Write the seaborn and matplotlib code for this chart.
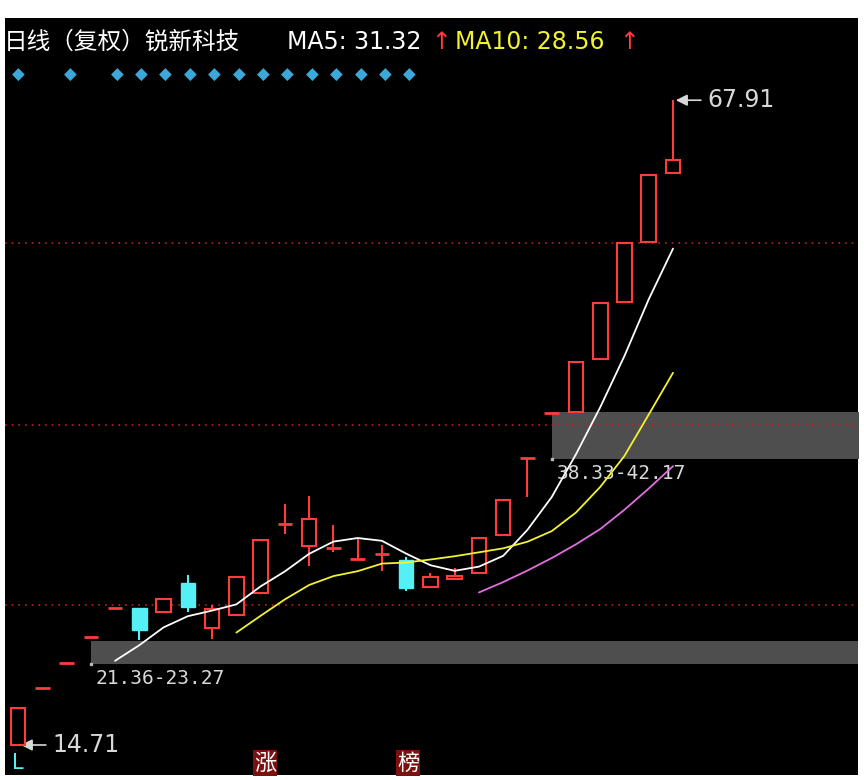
import numpy as np
import pandas as pd
import matplotlib
matplotlib.use("Agg")
import matplotlib.pyplot as plt
import seaborn as sns

sns.set_theme(style="dark")
plt.rcParams['font.family'] = ['Noto Sans CJK SC', 'DejaVu Sans']

opens  = [14.71,19.41,21.48,23.62,26.01,26.01,25.68,28.08,24.36,25.44,27.25,32.94,31.13,30.96,30.06,30.47,29.97,27.75,28.40,28.90,32.04,38.39,42.10,42.19,46.56,51.26,56.21,61.90]
closes = [17.76,19.41,21.48,23.62,26.01,24.20,26.76,26.10,25.93,28.57,31.62,32.94,33.36,30.96,30.06,30.47,27.66,28.57,28.65,31.79,34.92,38.39,42.10,46.31,51.18,56.13,61.74,62.98]
highs  = [17.76,19.41,21.48,23.62,26.01,26.01,26.76,28.74,26.26,28.57,31.62,34.59,35.25,32.86,31.79,31.21,30.22,28.90,29.31,31.79,34.92,38.39,42.10,46.31,51.18,56.13,61.74,67.91]
lows   = [14.71,19.41,21.48,23.62,26.01,23.37,25.68,25.68,23.46,25.44,27.25,32.12,29.48,30.63,30.06,29.07,27.42,27.75,28.32,28.90,32.04,35.17,42.10,42.19,46.56,51.26,56.21,61.90]
grid_levels = [56.13, 41.11, 26.26]
zones = [(21.36, 23.27, 3.0), (38.33, 42.17, 22.0)]

BG = "black"; RED = "#ff3b3b"; CYAN = "#54f0f5"
fig = plt.figure(figsize=(8.64, 7.8), dpi=100, facecolor="white")
W, H = 864, 780
ax = fig.add_axes([5/W, 1-775/H, 853/W, 757/H])
ax.set_facecolor(BG)
x0, dx = 18, 24.26
ax.set_xlim((5-x0)/dx, (858-x0)/dx)
pp = 12.12
ax.set_ylim(14.71-30/pp, 14.71+727/pp)
ax.set_xticks([]); ax.set_yticks([])
for s in ax.spines.values(): s.set_visible(False)

for g in grid_levels:
    ax.axhline(g, color="#c02020", ls=(0, (1, 3)), lw=1.2)
for lo, hi, xs in zones:
    ax.fill_between([xs, 40], lo, hi, color="#4e4e4e", lw=0, zorder=1)
    ax.plot([xs], [lo], marker="s", ms=2, color="#bbbbbb", zorder=2)
    ax.text(xs+0.2, lo-0.4, f"{lo:.2f}-{hi:.2f}", color="#d8d8d8", fontsize=14,
            family="DejaVu Sans Mono", va="top", ha="left", zorder=3)

n = len(opens)
idx = np.arange(n)
bw = 0.6
for i in idx:
    o, c, h, l = opens[i], closes[i], highs[i], lows[i]
    up = c >= o
    col = RED if up else CYAN
    top, bot = max(o, c), min(o, c)
    ax.vlines(i, top, h, color=col, lw=1.5, zorder=4)
    ax.vlines(i, l, bot, color=col, lw=1.5, zorder=4)
    if abs(c - o) < 0.15:
        ax.hlines(c, i-bw/2, i+bw/2, color=col, lw=2, zorder=4)
    elif up:
        ax.bar(i, top-bot, bottom=bot, width=bw, facecolor=BG, edgecolor=col, lw=1.5, zorder=4)
    else:
        ax.bar(i, top-bot, bottom=bot, width=bw, facecolor=col, edgecolor=col, lw=1, zorder=4)

df = pd.DataFrame({"i": idx, "close": closes})
for w, col in [(5, "white"), (10, "#f2f230"), (20, "#e070e0")]:
    df[f"ma{w}"] = df["close"].rolling(w).mean()
    sns.lineplot(data=df, x="i", y=f"ma{w}", color=col, lw=1.3, ax=ax, zorder=5)
ax.set_xlabel(""); ax.set_ylabel("")

ax.annotate("67.91", xy=(27, 67.91), xytext=(28.4, 67.91), color="#d8d8d8", fontsize=17,
            va="center", family="DejaVu Sans",
            arrowprops=dict(arrowstyle="-|>", color="#d8d8d8", lw=1.2))
ax.annotate("14.71", xy=(0, 14.71), xytext=(1.4, 14.71), color="#d8d8d8", fontsize=17,
            va="center", family="DejaVu Sans",
            arrowprops=dict(arrowstyle="-|>", color="#d8d8d8", lw=1.2))

fy = 1-42/H
fig.text(4/W, fy, "日线（复权）锐新科技", color="white", fontsize=17, va="center")
fig.text(287/W, fy, "MA5: 31.32", color="white", fontsize=17, va="center", family="DejaVu Sans")
fig.text(431/W, fy, "↑", color=RED, fontsize=17, va="center", family="DejaVu Sans")
fig.text(455/W, fy, "MA10: 28.56", color="#f2f230", fontsize=17, va="center", family="DejaVu Sans")
fig.text(619/W, fy, "↑", color=RED, fontsize=17, va="center", family="DejaVu Sans")
for xp in [18, 70] + [117 + 24.4*k for k in range(13)]:
    fig.text(xp/W, 1-75/H, "◆", color="#3aa8d8", fontsize=12, ha="center", va="center",
             family="DejaVu Sans")
fig.text(18/W, 1-763/H, "L", color=CYAN, fontsize=15, ha="center", va="center", family="DejaVu Sans")
for xp, t in [(265, "涨"), (408, "榜")]:
    fig.text(xp/W, 1-763/H, t, color="white", fontsize=16, ha="center", va="center",
             bbox=dict(facecolor="#7a1010", edgecolor="none", pad=1))

fig.savefig("out.png", dpi=100, facecolor="white")
